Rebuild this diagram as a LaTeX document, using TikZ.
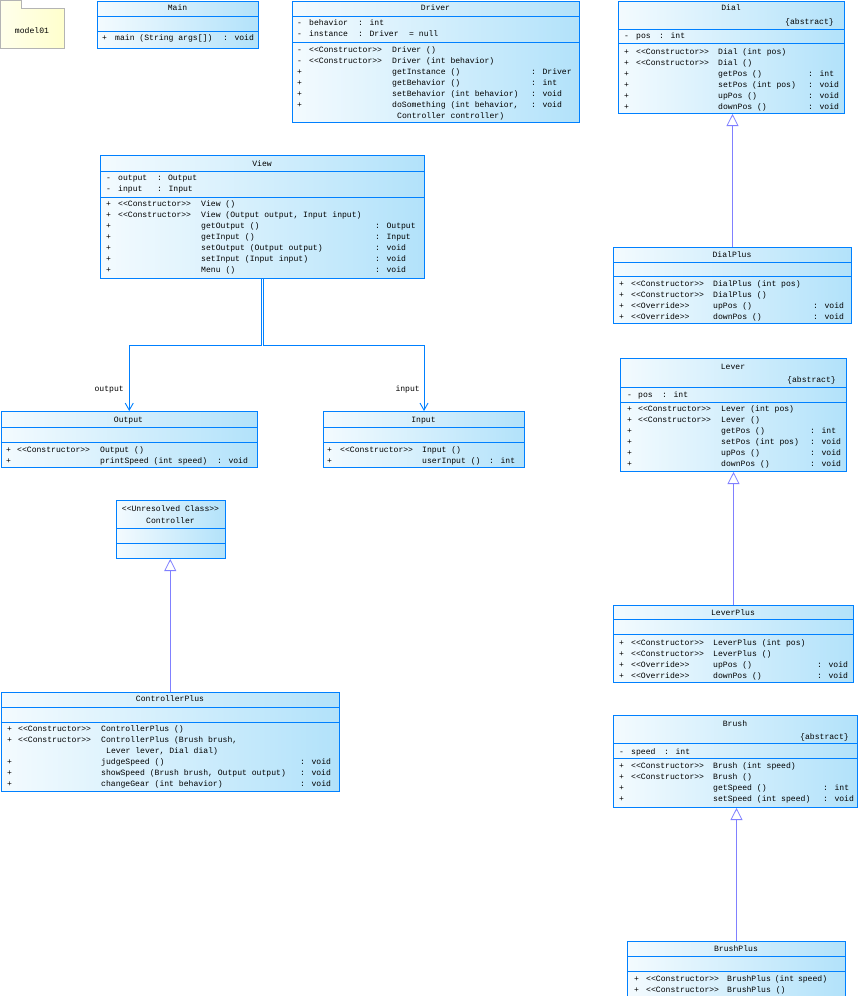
\documentclass[tikz,border=0pt]{standalone}
\usepackage{fontspec}
\usepackage{xcolor}
\usetikzlibrary{arrows.meta}
\newfontfamily\umlfont{Liberation Mono}
\definecolor{umlblue}{RGB}{0,128,255}
\definecolor{umlfill}{RGB}{178,226,250}
\definecolor{inhline}{RGB}{128,128,255}
\definecolor{pkgfill}{RGB}{255,255,205}
\definecolor{pkgline}{RGB}{180,180,180}
% rows of a compartment: visibility, stereotype, name, type
\newenvironment{optab}[3]{\begin{tabular}[t]{@{}p{#1pt}@{}p{#2pt}@{}p{#3pt}@{}l@{}}}{\end{tabular}}

\begin{document}
\begin{tikzpicture}[x=1pt, y=-1pt,
    cls/.style={rectangle, draw=umlblue, line width=1pt, left color=umlfill!15!white, right color=umlfill, inner sep=0, anchor=north west},
    sepline/.style={draw=umlblue, line width=0.9pt},
    ttl/.style={font=\umlfont\fontsize{8.1}{11}\selectfont, anchor=base, inner sep=0},
    rows/.style={font=\umlfont\fontsize{8.1}{11}\selectfont, anchor=base west, inner sep=0},
    inherit/.style={draw=inhline, line width=0.8pt, -{Triangle[open, length=12pt, width=12pt]}},
    assoc/.style={draw=umlblue, line width=0.9pt, -{Straight Barb[length=7pt, width=8pt]}},
]
\useasboundingbox (0,0) rectangle (860,996);

% Package
\draw[draw=pkgline, left color=pkgfill!40, right color=pkgfill] (0.5,0.5) -- (21,0.5) -- (21,8) -- (64,8) -- (64,48) -- (0.5,48) -- cycle;
\node[ttl] (model) at (32,33) {model01};

% Main
\node[cls, minimum width=161pt, minimum height=47.5pt] (main) at (97,0.5) {};
\node[ttl] (main-name) at (177.5,10) {Main};
\draw[sepline] (main.west |- 0,16) -- (main.east |- 0,16);
\draw[sepline] (main.west |- 0,31) -- (main.east |- 0,31);
\node[rows] (main-ops) at (102,40) {\begin{optab}{13}{0}{108}
+ & & main (String args[]) & : void
\end{optab}};

% Driver
\node[cls, minimum width=287pt, minimum height=121.5pt] (driver) at (292,0.5) {};
\node[ttl] (driver-name) at (435.5,10) {Driver};
\draw[sepline] (driver.west |- 0,16) -- (driver.east |- 0,16);
\draw[sepline] (driver.west |- 0,42) -- (driver.east |- 0,42);
\node[rows] (driver-attr) at (297,25) {\begin{optab}{12}{49}{47}
- & behavior & : int & \\
- & instance & : Driver & \hspace{4pt}= null
\end{optab}};
\node[rows] (driver-ops) at (297,52) {\begin{optab}{12}{83}{139}
- & <<Constructor>> & Driver () & \\
- & <<Constructor>> & Driver (int behavior) & \\
+ & & getInstance () & : Driver \\
+ & & getBehavior () & : int \\
+ & & setBehavior (int behavior) & : void \\
+ & & doSomething (int behavior, & : void \\
  & & \hspace{5pt}Controller controller) &
\end{optab}};

% Dial
\node[cls, minimum width=226pt, minimum height=112.5pt] (dial) at (618,0.5) {};
\node[ttl] (dial-name) at (731,10) {Dial};
\node[ttl, anchor=base east] (dial-abs) at (834,24) {\{abstract\}};
\draw[sepline] (dial.west |- 0,29) -- (dial.east |- 0,29);
\draw[sepline] (dial.west |- 0,43) -- (dial.east |- 0,43);
\node[rows] (dial-attr) at (624,38) {\begin{optab}{12}{23}{40}
- & pos & : int &
\end{optab}};
\node[rows] (dial-ops) at (624,54) {\begin{optab}{12}{82}{90}
+ & <<Constructor>> & Dial (int pos) & \\
+ & <<Constructor>> & Dial () & \\
+ & & getPos () & : int \\
+ & & setPos (int pos) & : void \\
+ & & upPos () & : void \\
+ & & downPos () & : void
\end{optab}};

% DialPlus
\node[cls, minimum width=238pt, minimum height=76pt] (dialplus) at (613,247) {};
\node[ttl] (dialplus-name) at (732,257) {DialPlus};
\draw[sepline] (dialplus.west |- 0,262) -- (dialplus.east |- 0,262);
\draw[sepline] (dialplus.west |- 0,276) -- (dialplus.east |- 0,276);
\node[rows] (dialplus-ops) at (619,286) {\begin{optab}{12}{82}{100}
+ & <<Constructor>> & DialPlus (int pos) & \\
+ & <<Constructor>> & DialPlus () & \\
+ & <<Override>> & upPos () & : void \\
+ & <<Override>> & downPos () & : void
\end{optab}};

% Lever
\node[cls, minimum width=226pt, minimum height=113pt] (lever) at (620,358) {};
\node[ttl] (lever-name) at (733,369) {Lever};
\node[ttl, anchor=base east] (lever-abs) at (836,382) {\{abstract\}};
\draw[sepline] (lever.west |- 0,387) -- (lever.east |- 0,387);
\draw[sepline] (lever.west |- 0,402) -- (lever.east |- 0,402);
\node[rows] (lever-attr) at (627,397) {\begin{optab}{11}{24}{40}
- & pos & : int &
\end{optab}};
\node[rows] (lever-ops) at (627,411) {\begin{optab}{11}{83}{89}
+ & <<Constructor>> & Lever (int pos) & \\
+ & <<Constructor>> & Lever () & \\
+ & & getPos () & : int \\
+ & & setPos (int pos) & : void \\
+ & & upPos () & : void \\
+ & & downPos () & : void
\end{optab}};

% LeverPlus
\node[cls, minimum width=240pt, minimum height=77pt] (leverplus) at (613,605) {};
\node[ttl] (leverplus-name) at (733,615) {LeverPlus};
\draw[sepline] (leverplus.west |- 0,619) -- (leverplus.east |- 0,619);
\draw[sepline] (leverplus.west |- 0,634) -- (leverplus.east |- 0,634);
\node[rows] (leverplus-ops) at (619,645) {\begin{optab}{12}{82}{104}
+ & <<Constructor>> & LeverPlus (int pos) & \\
+ & <<Constructor>> & LeverPlus () & \\
+ & <<Override>> & upPos () & : void \\
+ & <<Override>> & downPos () & : void
\end{optab}};

% Brush
\node[cls, minimum width=244pt, minimum height=92pt] (brush) at (613,715) {};
\node[ttl] (brush-name) at (735,726) {Brush};
\node[ttl, anchor=base east] (brush-abs) at (849,739) {\{abstract\}};
\draw[sepline] (brush.west |- 0,743) -- (brush.east |- 0,743);
\draw[sepline] (brush.west |- 0,758) -- (brush.east |- 0,758);
\node[rows] (brush-attr) at (619,754) {\begin{optab}{12}{33}{40}
- & speed & : int &
\end{optab}};
\node[rows] (brush-ops) at (619,768) {\begin{optab}{12}{82}{110}
+ & <<Constructor>> & Brush (int speed) & \\
+ & <<Constructor>> & Brush () & \\
+ & & getSpeed () & : int \\
+ & & setSpeed (int speed) & : void
\end{optab}};

% BrushPlus
\node[cls, minimum width=218pt, minimum height=60pt] (brushplus) at (627,941) {};
\node[ttl] (brushplus-name) at (736,951) {BrushPlus};
\draw[sepline] (brushplus.west |- 0,956) -- (brushplus.east |- 0,956);
\draw[sepline] (brushplus.west |- 0,971) -- (brushplus.east |- 0,971);
\node[rows] (brushplus-ops) at (634,981) {\begin{optab}{12}{81}{100}
+ & <<Constructor>> & BrushPlus (int speed) & \\
+ & <<Constructor>> & BrushPlus () &
\end{optab}};

% View
\node[cls, minimum width=324pt, minimum height=123pt] (view) at (100,155) {};
\node[ttl] (view-name) at (262,166) {View};
\draw[sepline] (view.west |- 0,171) -- (view.east |- 0,171);
\draw[sepline] (view.west |- 0,197) -- (view.east |- 0,197);
\node[rows] (view-attr) at (106,180) {\begin{optab}{12}{39}{40}
- & output & : Output & \\
- & input & : Input &
\end{optab}};
\node[rows] (view-ops) at (106,206) {\begin{optab}{12}{83}{174}
+ & <<Constructor>> & View () & \\
+ & <<Constructor>> & View (Output output, Input input) & \\
+ & & getOutput () & : Output \\
+ & & getInput () & : Input \\
+ & & setOutput (Output output) & : void \\
+ & & setInput (Input input) & : void \\
+ & & Menu () & : void
\end{optab}};

% Output
\node[cls, minimum width=256.5pt, minimum height=56pt] (output) at (0.5,411) {};
\node[ttl] (output-name) at (128.5,422) {Output};
\draw[sepline] (output.west |- 0,427) -- (output.east |- 0,427);
\draw[sepline] (output.west |- 0,442) -- (output.east |- 0,442);
\node[rows] (output-ops) at (6,452) {\begin{optab}{11}{83}{117}
+ & <<Constructor>> & Output () & \\
+ & & printSpeed (int speed) & : void
\end{optab}};

% Input
\node[cls, minimum width=201pt, minimum height=56pt] (input) at (323,411) {};
\node[ttl] (input-name) at (423.5,422) {Input};
\draw[sepline] (input.west |- 0,427) -- (input.east |- 0,427);
\draw[sepline] (input.west |- 0,442) -- (input.east |- 0,442);
\node[rows] (input-ops) at (327,452) {\begin{optab}{13}{82}{67}
+ & <<Constructor>> & Input () & \\
+ & & userInput () & : int
\end{optab}};

% Controller
\node[cls, minimum width=109pt, minimum height=58pt] (ctrl) at (116,500) {};
\node[ttl] (ctrl-stereo) at (170.5,511) {<<Unresolved Class>>};
\node[ttl] (ctrl-name) at (170.5,523) {Controller};
\draw[sepline] (ctrl.west |- 0,528) -- (ctrl.east |- 0,528);
\draw[sepline] (ctrl.west |- 0,543) -- (ctrl.east |- 0,543);

% ControllerPlus
\node[cls, minimum width=338.5pt, minimum height=99pt] (ctrlplus) at (0.5,692) {};
\node[ttl] (ctrlplus-name) at (170,701) {ControllerPlus};
\draw[sepline] (ctrlplus.west |- 0,707) -- (ctrlplus.east |- 0,707);
\draw[sepline] (ctrlplus.west |- 0,722) -- (ctrlplus.east |- 0,722);
\node[rows] (ctrlplus-ops) at (7,731) {\begin{optab}{11}{83}{199}
+ & <<Constructor>> & ControllerPlus () & \\
+ & <<Constructor>> & ControllerPlus (Brush brush, & \\
  & & \hspace{5pt}Lever lever, Dial dial) & \\
+ & & judgeSpeed () & : void \\
+ & & showSpeed (Brush brush, Output output) & : void \\
+ & & changeGear (int behavior) & : void
\end{optab}};

% Generalisations
\draw[inherit] (dialplus.north) -- (dialplus.north |- dial.south);
\draw[inherit] (leverplus.north) -- (leverplus.north |- lever.south);
\draw[inherit] (brushplus.north) -- (brushplus.north |- brush.south);
\draw[inherit] (ctrlplus.north) -- (ctrlplus.north |- ctrl.south);

% Associations
\draw[assoc] ([xshift=-1.2pt]view.south) -- ++(0,66) -| (output.north);
\draw[assoc] ([xshift=1.2pt]view.south) -- ++(0,66) -| (input.north);
\node[ttl, anchor=base east] (output-role) at (124,391) {output};
\node[ttl, anchor=base east] (input-role) at (420,391) {input};

\end{tikzpicture}
\end{document}
